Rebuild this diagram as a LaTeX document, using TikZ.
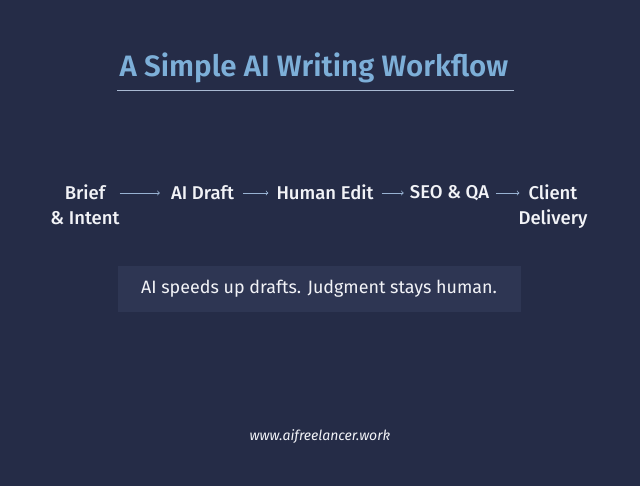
\documentclass[tikz,border=0pt]{standalone}
\usepackage{fontspec}
\setmainfont{Fira Sans}
\newfontfamily\medfont{Fira Sans Medium}
\newfontfamily\semifont{Fira Sans SemiBold}
\usetikzlibrary{arrows}
\usepackage{xcolor}

\definecolor{bgnavy}{HTML}{252C47}
\definecolor{titleblue}{HTML}{7DAFD8}
\definecolor{ruleblue}{HTML}{A9B9D2}
\definecolor{stepwhite}{HTML}{F2F3F7}
\definecolor{arrowblue}{HTML}{98B2D2}
\definecolor{notefill}{HTML}{2E3653}

\tikzset{
    stepnode/.style={text=stepwhite, font=\medfont\fontsize{18.5}{25}\selectfont,
        align=center, anchor=north, inner xsep=0pt, inner ysep=4pt},
    flowarrow/.style={->, >=to, draw=arrowblue, line width=0.8pt},
}

\begin{document}
\begin{tikzpicture}[x=1pt, y=-1pt]
                \fill[bgnavy] (0,0) rectangle (640,486);
                \useasboundingbox (0,0) rectangle (640,486);
                % title
                \node (title) at (314,68) [text=titleblue, font=\semifont\fontsize{29.5}{34}\selectfont] {A Simple AI Writing Workflow};
                \draw[ruleblue, line width=1pt] (117,91) -- (514,91);
                % steps
                \coordinate (row) at (0,193);
                \node (brief) at (85,181) [stepnode] {Brief\\\& Intent};
                \node (draft) at (202.5,181) [stepnode] {AI Draft};
                \node (edit) at (325,181) [stepnode] {Human Edit};
                \node (seo) at (449.5,181) [stepnode] {SEO \& QA};
                \node (client) at (553,181) [stepnode] {Client\\Delivery};
                \draw[flowarrow, shorten >=11pt] (brief.east |- row) -- (draft.west |- row);
                \draw[flowarrow, shorten <=9pt, shorten >=8pt] (draft.east |- row) -- (edit.west |- row);
                \draw[flowarrow, shorten <=8pt, shorten >=6pt] (edit.east |- row) -- (seo.west |- row);
                \draw[flowarrow, shorten <=7pt, shorten >=-1pt] (seo.east |- row) -- (client.west |- row);
                % note
                \fill[notefill] (118,266) rectangle (521,312);
                \node (note) at (319,289) [text=stepwhite, font=\fontsize{17.9}{21}\selectfont] {AI speeds up drafts. Judgment stays human.};
                % footer
                \node (site) at (320,437) [text=stepwhite, font=\fontsize{14}{17}\selectfont\itshape] {www.aifreelancer.work};
\end{tikzpicture}
\end{document}
